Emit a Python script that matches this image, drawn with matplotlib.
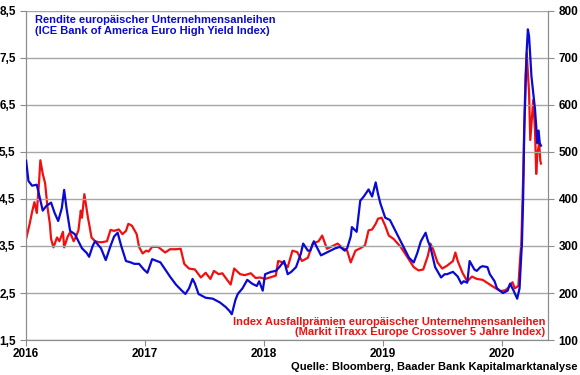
import matplotlib
matplotlib.use("Agg")
import matplotlib.pyplot as plt
from matplotlib.ticker import FuncFormatter

# Rendite ICE BofA Euro High Yield (in %), decimal years
hy_years = [
    2016.00, 2016.02, 2016.05, 2016.09, 2016.14, 2016.17, 2016.21, 2016.24,
    2016.27, 2016.30, 2016.32, 2016.34, 2016.37, 2016.41, 2016.44, 2016.47,
    2016.51, 2016.53, 2016.56, 2016.58, 2016.63, 2016.67, 2016.71, 2016.74,
    2016.77, 2016.80, 2016.84, 2016.88, 2016.91, 2016.95, 2016.99, 2017.02,
    2017.06, 2017.10, 2017.13, 2017.17, 2017.21, 2017.26, 2017.31, 2017.34,
    2017.37, 2017.40, 2017.42, 2017.45, 2017.51, 2017.57, 2017.63, 2017.68,
    2017.71, 2017.73, 2017.76, 2017.78, 2017.82, 2017.86, 2017.90, 2017.94,
    2017.96, 2017.99, 2018.01, 2018.06, 2018.10, 2018.13, 2018.17, 2018.20,
    2018.23, 2018.27, 2018.31, 2018.33, 2018.37, 2018.39, 2018.42, 2018.45,
    2018.48, 2018.52, 2018.56, 2018.60, 2018.64, 2018.68, 2018.70, 2018.73,
    2018.74, 2018.78, 2018.81, 2018.84, 2018.88, 2018.91, 2018.94, 2018.96,
    2018.98, 2019.02, 2019.06, 2019.09, 2019.12, 2019.16, 2019.19, 2019.22,
    2019.26, 2019.29, 2019.32, 2019.36, 2019.38, 2019.40, 2019.44, 2019.49,
    2019.52, 2019.54, 2019.59, 2019.63, 2019.66, 2019.68, 2019.71, 2019.73,
    2019.77, 2019.79, 2019.82, 2019.84, 2019.88, 2019.90, 2019.94, 2019.96,
    2020.01, 2020.05, 2020.07, 2020.10, 2020.13, 2020.15, 2020.16, 2020.17,
    2020.18, 2020.19, 2020.21, 2020.22, 2020.23, 2020.25, 2020.26, 2020.28,
    2020.30, 2020.31, 2020.32, 2020.33,
]
hy_yield = [
    5.31, 4.88, 4.78, 4.80, 4.25, 4.35, 4.42, 4.20,
    4.03, 4.30, 4.69, 4.30, 3.82, 3.75, 3.60, 3.45,
    3.35, 3.27, 3.50, 3.60, 3.45, 3.20, 3.50, 3.70,
    3.78, 3.50, 3.18, 3.15, 3.12, 3.12, 3.00, 2.93,
    3.22, 3.18, 3.15, 3.00, 2.85, 2.68, 2.55, 2.48,
    2.60, 2.80, 2.70, 2.48, 2.40, 2.38, 2.30, 2.20,
    2.12, 2.05, 2.35, 2.48, 2.60, 2.78, 2.70, 2.65,
    2.75, 2.55, 2.90, 2.95, 2.97, 3.05, 3.18, 2.90,
    2.95, 3.05, 3.33, 3.55, 3.40, 3.40, 3.60, 3.45,
    3.30, 3.35, 3.40, 3.45, 3.48, 3.40, 3.45, 3.70,
    3.90, 3.80, 4.46, 4.55, 4.70, 4.55, 4.85, 4.60,
    4.40, 4.10, 4.05, 3.90, 3.75, 3.55, 3.40, 3.25,
    3.15, 3.35, 3.60, 3.78, 3.60, 3.48, 3.05, 2.83,
    2.90, 2.90, 2.95, 2.85, 2.70, 2.75, 2.72, 3.18,
    3.00, 2.97, 3.05, 3.07, 3.05, 2.90, 2.75, 2.60,
    2.50, 2.55, 2.70, 2.55, 2.38, 2.60, 3.10, 3.55,
    4.50, 6.00, 7.65, 8.10, 7.95, 7.10, 6.87, 6.40,
    5.68, 5.95, 5.68, 5.63,
]

# Markit iTraxx Europe Crossover 5Y (in Basispunkten)
xo_years = [
    2016.00, 2016.03, 2016.05, 2016.07, 2016.09, 2016.11, 2016.12, 2016.14,
    2016.16, 2016.18, 2016.20, 2016.21, 2016.23, 2016.26, 2016.28, 2016.31,
    2016.32, 2016.35, 2016.37, 2016.40, 2016.42, 2016.44, 2016.46, 2016.47,
    2016.49, 2016.52, 2016.53, 2016.55, 2016.58, 2016.61, 2016.64, 2016.68,
    2016.71, 2016.74, 2016.78, 2016.81, 2016.84, 2016.86, 2016.89, 2016.93,
    2016.95, 2016.98, 2017.01, 2017.03, 2017.06, 2017.11, 2017.17, 2017.21,
    2017.26, 2017.30, 2017.33, 2017.37, 2017.42, 2017.47, 2017.51, 2017.55,
    2017.58, 2017.62, 2017.65, 2017.70, 2017.72, 2017.75, 2017.80, 2017.84,
    2017.89, 2017.93, 2017.97, 2018.01, 2018.05, 2018.10, 2018.12, 2018.16,
    2018.20, 2018.24, 2018.28, 2018.32, 2018.37, 2018.41, 2018.46, 2018.49,
    2018.53, 2018.58, 2018.62, 2018.66, 2018.70, 2018.73, 2018.77, 2018.81,
    2018.85, 2018.88, 2018.91, 2018.94, 2018.96, 2018.99, 2019.02, 2019.05,
    2019.09, 2019.15, 2019.21, 2019.26, 2019.30, 2019.34, 2019.38, 2019.40,
    2019.42, 2019.46, 2019.50, 2019.54, 2019.59, 2019.61, 2019.63, 2019.67,
    2019.71, 2019.75, 2019.79, 2019.84, 2019.90, 2019.95, 2019.99, 2020.03,
    2020.05, 2020.09, 2020.11, 2020.14, 2020.155, 2020.165, 2020.18, 2020.19,
    2020.20, 2020.21, 2020.23, 2020.24, 2020.255, 2020.265, 2020.28, 2020.29,
    2020.30, 2020.315, 2020.325, 2020.33,
]
xo_spread = [
    315, 347, 372, 393, 370, 440, 482, 453,
    433, 382, 347, 315, 297, 318, 310, 330,
    297, 320, 329, 310, 320, 333, 375, 360,
    410, 360, 347, 318, 310, 308, 308, 310,
    334, 332, 335, 325, 332, 347, 343, 325,
    298, 284, 290, 288, 298, 298, 286, 293,
    293, 294, 262, 252, 250, 233, 243, 230,
    247, 240, 242, 225, 218, 252, 240, 238,
    242, 232, 233, 230, 233, 237, 268, 265,
    255, 290, 287, 268, 275, 305, 310, 322,
    294, 300, 305, 296, 290, 265, 290, 295,
    301, 333, 335, 347, 358, 360, 343, 322,
    315, 298, 275, 255, 248, 250, 280, 305,
    295, 265, 252, 258, 268, 286, 268, 243,
    225, 235, 230, 228, 218, 210, 204, 206,
    210, 223, 210, 215, 275, 305, 445, 560,
    660, 710, 625, 525, 575, 610, 545, 453,
    497, 518, 480, 475,
]

year_ticks = [2016, 2017, 2018, 2019, 2020]
left_ticks = [1.5, 2.5, 3.5, 4.5, 5.5, 6.5, 7.5, 8.5]
right_ticks = [100, 200, 300, 400, 500, 600, 700, 800]

BLUE = "#0a0ad2"
RED = "#f01010"
GRID = "#a6a6a6"

plt.rcParams["font.family"] = ["Liberation Sans", "DejaVu Sans"]
plt.rcParams["font.weight"] = "bold"

fig = plt.figure(figsize=(5.8, 3.75), dpi=100)
ax = fig.add_axes([0.045, 0.093, 0.9, 0.879])
ax2 = ax.twinx()

ax.plot(hy_years, hy_yield, color=BLUE, lw=1.6, zorder=3)
ax2.plot(xo_years, xo_spread, color=RED, lw=1.6, zorder=2)
# blue line drawn above red
ax.set_zorder(ax2.get_zorder() + 1)
ax.patch.set_visible(False)

ax.set_xlim(2016, 2020.39)
ax.set_ylim(1.5, 8.5)
ax2.set_ylim(100, 800)
ax.set_xticks(year_ticks)
ax.set_xticklabels([str(y) for y in year_ticks])
ax.set_yticks(left_ticks)
ax.yaxis.set_major_formatter(FuncFormatter(lambda v, p: f"{v:.1f}".replace(".", ",")))
ax2.set_yticks(right_ticks)

ax.grid(axis="y", color=GRID, lw=1)
ax.grid(axis="x", visible=False)

for a in (ax, ax2):
    for side in ("left", "right", "bottom"):
        a.spines[side].set_color("#8c8c8c")
    a.spines["top"].set_visible(False)
    a.tick_params(labelsize=8.5, colors="#8c8c8c", labelcolor="black", length=4)
ax.tick_params(axis="x", pad=2)

ax.text(0.018, 0.985, "Rendite europäischer Unternehmensanleihen\n(ICE Bank of America Euro High Yield Index)",
        transform=ax.transAxes, ha="left", va="top", color=BLUE,
        fontsize=8, fontweight="bold", linespacing=1.05)
ax.text(0.995, 0.008, "Index Ausfallprämien europäischer Unternehmensanleihen\n(Markit iTraxx Europe Crossover 5 Jahre Index)",
        transform=ax.transAxes, ha="right", va="bottom", color=RED,
        fontsize=8, fontweight="bold", linespacing=1.05, multialignment="right")
fig.text(0.995, 0.008, "Quelle: Bloomberg, Baader Bank Kapitalmarktanalyse",
         ha="right", va="bottom", fontsize=8, fontweight="bold")

fig.savefig("out.png", dpi=100)
